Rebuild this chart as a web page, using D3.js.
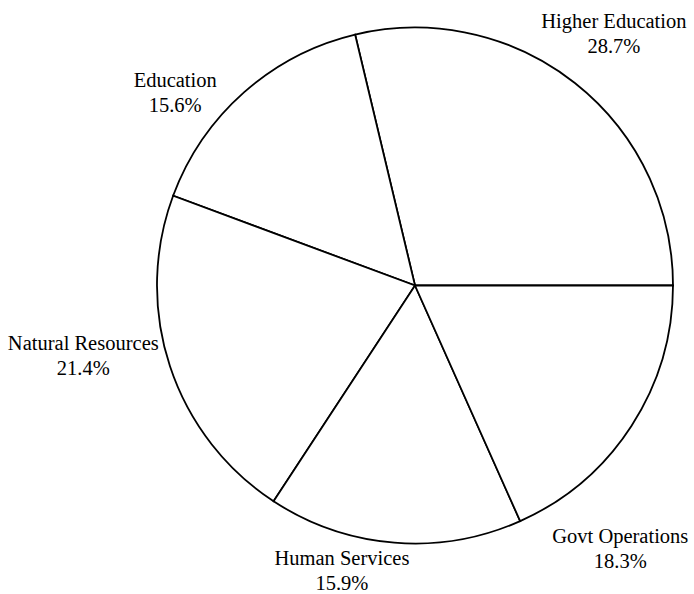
<!DOCTYPE html>
<meta charset="utf-8">
<style>
  body { margin: 0; background: #fff; }
  .slices path { fill: #fff; stroke: #000; stroke-width: 1.8px; }
  .labels text { font-family: "Liberation Serif", "Times New Roman", Times, "DejaVu Serif", serif; font-size: 20.5px; fill: #000; }
</style>
<svg width="694" height="594"></svg>
<script src="https://cdnjs.cloudflare.com/ajax/libs/d3/7.8.5/d3.min.js"></script>
<script>
  // data
  var categories = ["Higher Education", "Education", "Natural Resources", "Human Services", "Govt Operations"];
  var shares = [28.7, 15.6, 21.4, 15.9, 18.3];

  var svg = d3.select("svg"),
    cx = 415,
    cy = 285.5,
    radius = 258;

  // labels sit outside the pie; small angle shifts (degrees, clockwise) keep them off the page edge
  var labelShift = [0, -9.6, 6.3, 9.8, 19.1];
  var labelGap = [3, 3, 2, 3, 18];

  var slices = categories.map(function(name, i) {
    return { name: name, value: shares[i], index: i };
  });

  // counter-clockwise from 3 o'clock
  var pie = d3.pie()
    .sort(null)
    .value(function(d) { return d.value; })
    .startAngle(Math.PI / 2)
    .endAngle(Math.PI / 2 - 2 * Math.PI);

  var arc = d3.arc().innerRadius(0).outerRadius(radius);

  var arcs = pie(slices);

  var g = svg.append("g").attr("transform", "translate(" + cx + "," + cy + ")");

  g.append("g")
    .attr("class", "slices")
    .selectAll("path")
    .data(arcs)
    .enter().append("path")
    .attr("d", arc);

  var label = g.append("g")
    .attr("class", "labels")
    .selectAll("g")
    .data(arcs)
    .enter().append("g");

  var text = label.append("text").attr("text-anchor", "middle");
  text.append("tspan")
    .attr("x", 0)
    .attr("dy", 0)
    .text(function(d) { return d.data.name; });
  text.append("tspan")
    .attr("x", 0)
    .attr("dy", 25)
    .text(function(d) { return d.data.value.toFixed(1) + "%"; });

  // push each label box outward along its angle until it clears the circle
  label.each(function(d) {
    var box = this.getBBox();
    var i = d.data.index;
    var a = (d.startAngle + d.endAngle) / 2 + labelShift[i] * Math.PI / 180;
    var ux = Math.sin(a), uy = -Math.cos(a);
    var t, bx, by;
    for (t = radius * 0.5; t < radius + 300; t += 0.5) {
      bx = ux * t;
      by = uy * t;
      var x0 = bx - box.width / 2, x1 = bx + box.width / 2;
      var y0 = by - box.height / 2, y1 = by + box.height / 2;
      var nx = Math.max(x0, Math.min(0, x1));
      var ny = Math.max(y0, Math.min(0, y1));
      if (Math.sqrt(nx * nx + ny * ny) >= radius + labelGap[i]) break;
    }
    var dx = bx - (box.x + box.width / 2);
    var dy = by - (box.y + box.height / 2);
    d3.select(this).attr("transform", "translate(" + dx + "," + dy + ")");
  });
</script>
